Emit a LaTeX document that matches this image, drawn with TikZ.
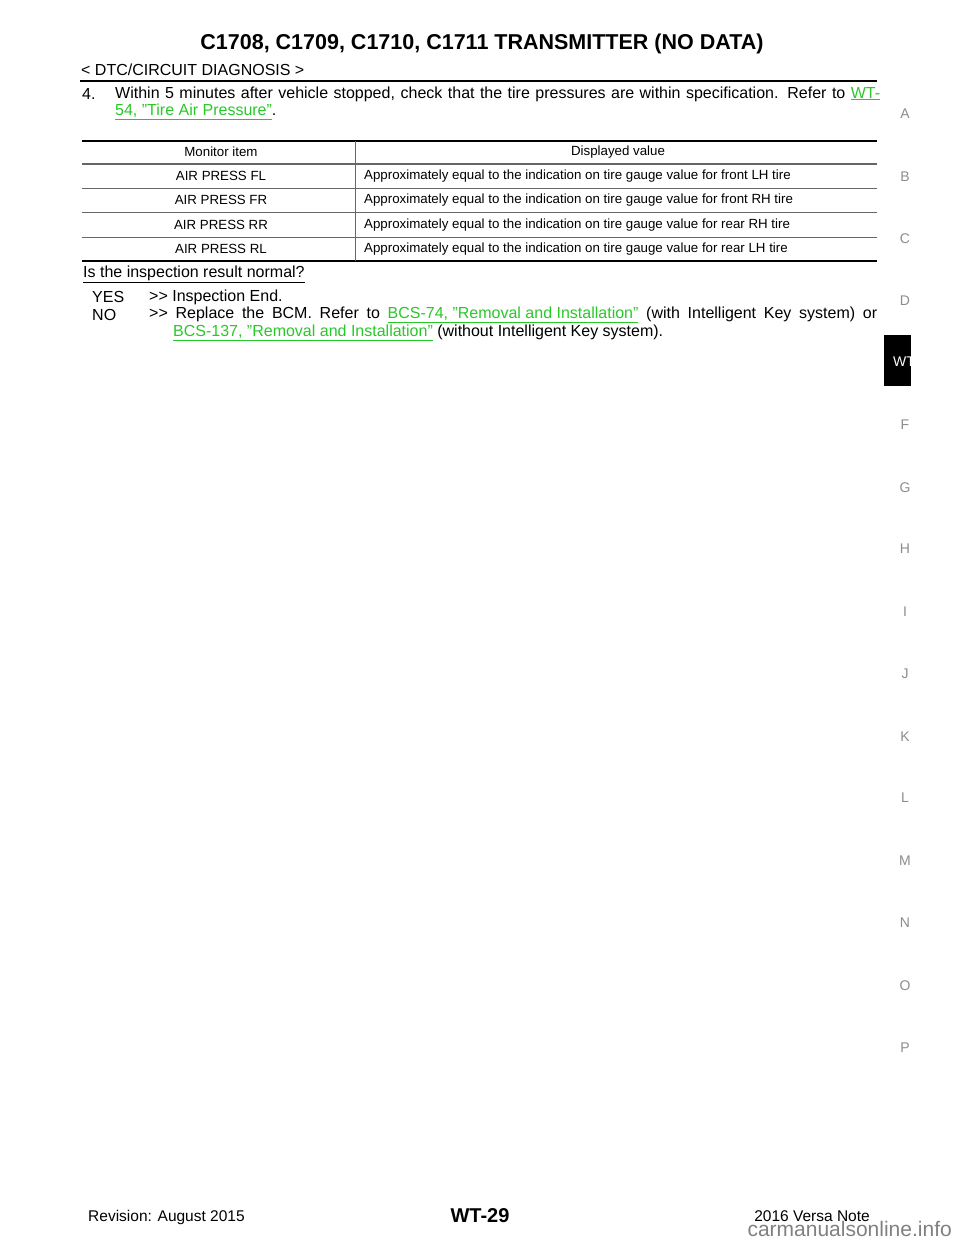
\documentclass[tikz,border=0pt]{standalone}
\usepackage{fontspec}
\setmainfont{Liberation Sans}
\definecolor{lnk}{RGB}{40,200,40}
\newcommand{\qq}{\symbol{34}}
\newcommand{\gtgt}{{>}{>}}
\begin{document}
\begin{tikzpicture}[x=1pt,y=-1pt,
  body/.style={inner sep=0pt,font=\fontsize{16}{19}\selectfont},
  cell/.style={inner sep=0pt,font=\fontsize{13.3}{15}\selectfont},
  side/.style={inner sep=0pt,text=black!45,font=\fontsize{14}{16}\selectfont},
  lk/.style={text=lnk}]
\useasboundingbox (0,0) rectangle (960,1242);
\node[inner sep=0pt,font=\bfseries\fontsize{21.5}{24}\selectfont] (title) at (482,44) {C1708, C1709, C1710, C1711 TRANSMITTER (NO DATA)};
\node[body,anchor=west] (sub) at (81,70) {< DTC/CIRCUIT DIAGNOSIS >};
\draw[line width=2pt] (80,81) -- (877,81);
\node[body,anchor=west] (n4) at (82,94) {4.};
\node[body,anchor=west] (s4) at (115,94) {\makebox[765pt][s]{Within 5 minutes after vehicle stopped, check that the tire pressures are within specification. Refer to \textcolor{lnk}{\underline{WT-}}}};
\node[body,anchor=west] (s4b) at (115,112) {\textcolor{lnk}{\underline{54, \qq Tire Air Pressure\qq}}.};
% table
\draw[line width=1.6pt] (82,141) -- (877,141);
\draw[line width=1.6pt,black!60] (82,164) -- (877,164);
\foreach \y in {188,212,237} \draw[black!60,line width=0.8pt] (82,\y) -- (877,\y);
\draw[line width=1.6pt] (82,261) -- (877,261);
\draw[black!60,line width=0.8pt] (355,141) -- (355,261);
\node[cell] (h1) at (221,152) {Monitor item};
\node[cell] (h2) at (618,152) {Displayed value};
\node[cell] (r1) at (221,176) {AIR PRESS FL};
\node[cell] (r2) at (221,200) {AIR PRESS FR};
\node[cell] (r3) at (221,225) {AIR PRESS RR};
\node[cell] (r4) at (221,249) {AIR PRESS RL};
\node[cell,anchor=west] (v1) at (364,176) {Approximately equal to the indication on tire gauge value for front LH tire};
\node[cell,anchor=west] (v2) at (364,200) {Approximately equal to the indication on tire gauge value for front RH tire};
\node[cell,anchor=west] (v3) at (364,225) {Approximately equal to the indication on tire gauge value for rear RH tire};
\node[cell,anchor=west] (v4) at (364,249) {Approximately equal to the indication on tire gauge value for rear LH tire};
\node[body,anchor=west] (q) at (83,274) {\underline{Is the inspection result normal?}};
\node[body,anchor=west] (yes) at (92,297) {YES};
\node[body,anchor=west] (yt) at (149,297) {\gtgt{} Inspection End.};
\node[body,anchor=west] (no) at (92,315) {NO};
\node[body,anchor=west] (nt) at (149,315) {\makebox[728pt][s]{\gtgt{} Replace the BCM. Refer to \textcolor{lnk}{\underline{BCS-74, \qq Removal and Installation\qq}} (with Intelligent Key system) or}};
\node[body,anchor=west] (nt2) at (173,333) {\textcolor{lnk}{\underline{BCS-137, \qq Removal and Installation\qq}} (without Intelligent Key system).};
% side index
\foreach \l/\y in {A/114,B/177,C/239,D/301,F/425,G/488,H/549,I/612,J/674,K/737,L/798,M/861,N/923,O/986,P/1048}
  \node[side] (s\l) at (905,\y) {\l};
\fill (884,335) rectangle (911,386);
\begin{scope}
\clip (884,335) rectangle (911,386);
\node[inner sep=0pt,anchor=west,text=white,font=\fontsize{14}{16}\selectfont] (wt) at (893,362) {WT};
\end{scope}
% footer
\node[inner sep=0pt,anchor=west,font=\fontsize{15.5}{18}\selectfont] (rev) at (88,1217) {Revision: August 2015};
\node[inner sep=0pt,font=\bfseries\fontsize{20}{24}\selectfont] (pg) at (480,1216) {WT-29};
\node[inner sep=0pt,anchor=east,font=\fontsize{15.5}{18}\selectfont] (veh) at (870,1216) {2016 Versa Note};
\node[inner sep=0pt,anchor=east,text=black!50,font=\fontsize{21}{24}\selectfont] (wm) at (952,1229) {carmanualsonline.info};
\end{tikzpicture}
\end{document}
